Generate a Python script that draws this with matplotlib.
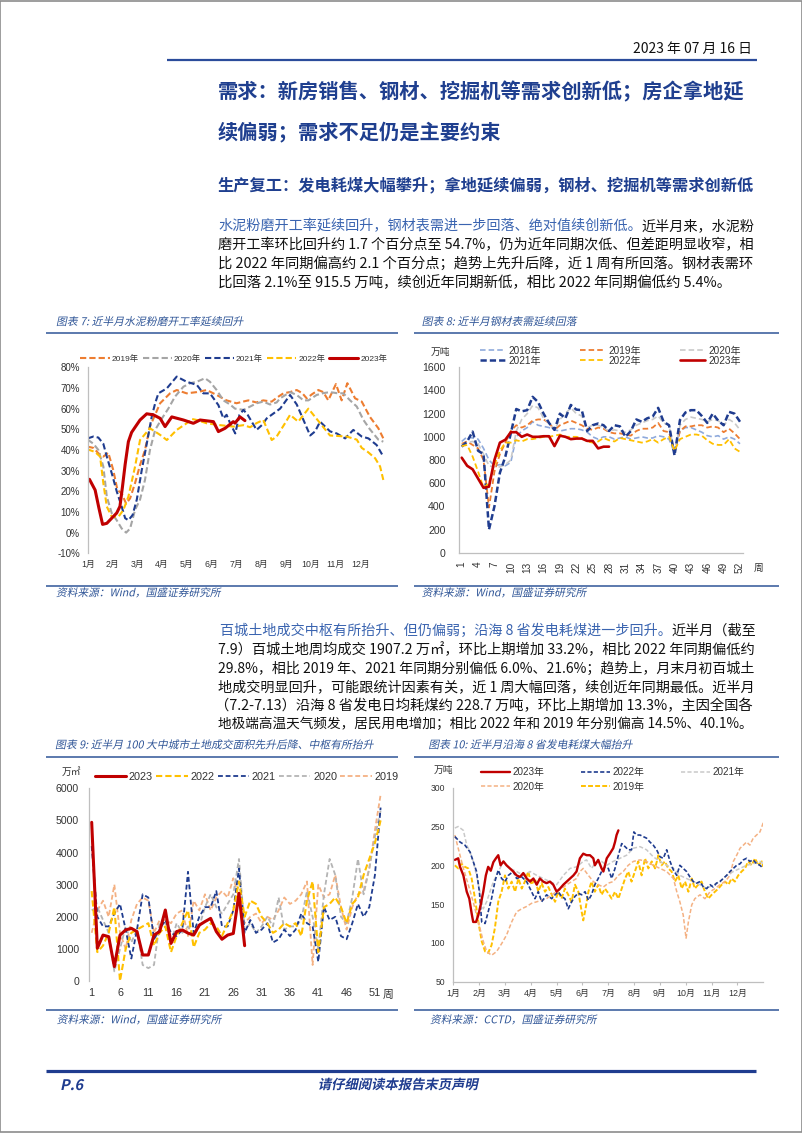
import matplotlib
matplotlib.use("Agg")
import matplotlib.pyplot as plt
from matplotlib.font_manager import FontProperties
from matplotlib.lines import Line2D
from matplotlib.patches import Rectangle
from matplotlib.patheffects import AbstractPathEffect
from matplotlib.transforms import Affine2D

# ============================ DATA ============================
# ---- Chart 7: cement grinding operating rate (%), x = month position (0 = 1 Jan)
c7_month_labels = [f"{m}月" for m in range(1, 13)]
c7_yticks = [-10, 0, 10, 20, 30, 40, 50, 60, 70, 80]

c7_x_2019 = [0, 0.23, 0.43, 0.63, 0.83, 1.03, 1.20, 1.37, 1.55, 1.71, 1.91, 2.11, 2.31, 2.51, 2.92, 3.32, 3.59, 3.99, 4.40, 4.80,
             5.20, 5.60, 6.00, 6.30, 6.48, 6.80, 7.08, 7.42, 7.65, 7.89, 8.15, 8.43, 8.65, 8.83, 9.05, 9.30, 9.50, 9.70, 10.01, 10.24,
             10.47, 10.78, 11.05, 11.38, 11.72, 11.92]
c7_y_2019 = [41.6, 41, 38.4, 36.8, 38.7, 30.3, 20.6, 19, 14, 16.6, 24, 32.7, 40, 51.3, 62.6, 67.4, 69, 67.4, 68, 69,
             66.6, 64, 62.6, 63.5, 64, 63, 64, 63.4, 65.5, 67.4, 68, 69, 67.5, 65, 67, 69, 68, 64, 71.9, 64,
             72.3, 65, 63.4, 56, 50.5, 45.6]

c7_x_2020 = [0, 0.23, 0.43, 0.63, 0.77, 0.97, 1.17, 1.37, 1.55, 1.71, 1.91, 2.11, 2.31, 2.51, 2.72, 2.98, 3.25, 3.52, 3.86, 4.13,
             4.40, 4.73, 4.93, 5.20, 5.47, 5.74, 5.94, 6.28, 6.55, 6.81, 7.08, 7.35, 7.62, 7.76, 8.16, 8.43, 8.70, 8.90, 9.23, 9.50,
             9.77, 10.04, 10.31, 10.58, 10.85, 11.12, 11.38, 11.72, 11.92]
c7_y_2020 = [45, 43, 40, 32, 17.4, 9.4, 6, 2, 0, 2, 11, 16, 25.5, 40, 49.7, 55, 60, 65.8, 70.6, 72.3,
             73, 74.7, 73, 69, 64, 62, 60, 59.4, 61, 62.6, 63.4, 62, 63, 65, 68, 66.6, 64, 64, 66.6, 67.5,
             68, 67.5, 67.4, 64, 61, 54.5, 50, 45, 44]

c7_x_2021 = [0, 0.23, 0.43, 0.63, 0.77, 0.97, 1.17, 1.37, 1.51, 1.64, 1.81, 1.98, 2.18, 2.38, 2.58, 2.72, 2.85, 3.19, 3.59, 3.99,
             4.40, 4.66, 4.93, 5.27, 5.47, 5.60, 5.74, 5.95, 6.12, 6.28, 6.45, 6.81, 7.02, 7.22, 7.76, 8.16, 8.43, 8.70, 8.97, 9.17,
             9.37, 9.77, 10.04, 10.38, 10.71, 11.05, 11.32, 11.65, 11.92]
c7_y_2021 = [45.6, 46.5, 46, 43, 36.8, 28.7, 20, 12.6, 7, 6, 8.5, 16, 30.3, 43, 56, 62.6, 67.4, 69.8, 75.5, 73,
             71.5, 67.4, 67.4, 61.7, 55.3, 57, 53, 48, 57, 59.4, 57, 49.7, 52, 55.3, 60, 66.6, 62, 54.5, 47, 49,
             53.7, 49, 48, 45.6, 49.7, 46.5, 45.6, 42.4, 36.8]

c7_x_2022 = [0, 0.30, 0.50, 0.63, 0.77, 0.97, 1.24, 1.44, 1.64, 1.91, 2.11, 2.51, 2.92, 3.19, 3.59, 3.99, 4.20, 4.40, 4.80, 5.34,
             5.87, 6.28, 6.55, 6.81, 7.08, 7.42, 7.62, 7.96, 8.16, 8.49, 8.90, 9.10, 9.37, 9.77, 10.44, 10.85, 11.05, 11.30, 11.59, 11.79,
             11.92]
c7_y_2022 = [40.3, 39, 36.8, 24, 12.6, 7.7, 7.7, 11, 17.4, 32, 44.8, 50.5, 47.3, 44.8, 49.7, 52.9, 55, 54.5, 52.9, 52,
             51.3, 52, 51, 53, 54.5, 44.8, 46.5, 53, 57, 53.7, 60, 57, 53, 47, 46.5, 45, 41, 39, 36, 32,
             25.5]

c7_x_2023 = [0.07, 0.30, 0.45, 0.60, 0.77, 0.97, 1.17, 1.30, 1.40, 1.51, 1.64, 1.77, 1.91, 2.11, 2.38, 2.65, 2.92, 3.12, 3.39, 3.86,
             4.26, 4.53, 5.07, 5.27, 5.54, 5.87, 5.94, 6.14, 6.34]
c7_y_2023 = [25.8, 20.6, 12, 4, 4.5, 7, 9.5, 12.7, 22, 33, 44, 48.5, 51, 54.5, 57.5, 57, 55.3, 51.3, 56, 54.5,
             52.9, 54.5, 53.7, 48.9, 50.5, 53.7, 53, 56, 54.2]

# ---- Chart 8: steel apparent demand (万吨), weekly
c8_weeks = list(range(1, 53))
c8_weeks_2023 = list(range(1, 29))
c8_tick_weeks = list(range(1, 53, 3))
c8_yticks = [0, 200, 400, 600, 800, 1000, 1200, 1400, 1600]
c8_2018 = [960, 1000, 990, 980, 900, 800, 750, 760, 750, 780, 1000, 1050, 1080, 1130, 1100, 1090, 1080, 1060, 1050, 1060,
           1070, 1070, 1060, 1040, 1000, 980, 1000, 1000, 980, 990, 1000, 980, 990, 1000, 990, 990, 1010, 1000, 980, 860,
           1050, 1080, 1080, 1060, 1040, 1010, 1000, 1010, 980, 1000, 980, 940]
c8_2019 = [940, 960, 930, 900, 800, 390, 700, 850, 950, 1050, 1100, 1080, 1100, 1140, 1150, 1150, 1120, 1060, 1100, 1120,
           1140, 1120, 1100, 1070, 1060, 1080, 1070, 1040, 1030, 1030, 1020, 1010, 1050, 1070, 1070, 1080, 1120, 1050, 1040, 870,
           1050, 1090, 1090, 1100, 1100, 1080, 1090, 1080, 1040, 1070, 1030, 980]
c8_2020 = [930, 950, 960, 940, 850, 750, 740, 740, 760, 800, 1050, 1150, 1200, 1270, 1250, 1160, 1120, 1060, 1150, 1200,
           1250, 1200, 1180, 1080, 1100, 1100, 1080, 1050, 1060, 1050, 1040, 1060, 1100, 1120, 1140, 1150, 1180, 1120, 1100, 850,
           1100, 1150, 1170, 1160, 1150, 1130, 1150, 1140, 1100, 1150, 1120, 1060]
c8_2021 = [915, 960, 1045, 880, 850, 200, 400, 690, 830, 1030, 1240, 1220, 1230, 1345, 1300, 1200, 1120, 1060, 1200, 1160,
           1275, 1235, 1230, 1050, 1100, 1115, 1100, 1050, 1100, 1090, 1000, 1050, 1150, 1130, 1160, 1175, 1250, 1130, 1100, 840,
           1145, 1210, 1230, 1230, 1180, 1120, 1200, 1140, 1100, 1215, 1200, 1130]
c8_2022 = [920, 930, 830, 700, 560, 600, 760, 880, 950, 950, 970, 960, 980, 980, 990, 1000, 1000, 1010, 1020, 1000,
           1000, 1000, 990, 960, 950, 960, 990, 970, 960, 990, 980, 970, 960, 950, 960, 980, 950, 980, 1000, 880,
           980, 1000, 1020, 1020, 1010, 970, 940, 930, 930, 980, 900, 870]
c8_2023 = [820, 750, 720, 640, 560, 570, 800, 950, 975, 1040, 1040, 1000, 1020, 1000, 1000, 1005, 1005, 920, 1010, 1000,
           980, 985, 985, 965, 965, 900, 915, 915]

# ---- Chart 9: land transactions in 100 cities (万㎡), weekly
c9_weeks = list(range(1, 53))
c9_weeks_2023 = list(range(1, 29))
c9_tick_weeks = list(range(1, 52, 5))
c9_yticks = [0, 1000, 2000, 3000, 4000, 5000, 6000]
c9_2023 = [4940, 1020, 1430, 1380, 450, 1430, 1590, 1640, 1540, 810, 810, 1430, 1540, 2210, 1170, 1540, 1590, 1490, 1430, 1740,
           1850, 1950, 1540, 1300, 1430, 1480, 2730, 1100]
c9_2022 = [2800, 900, 1100, 1500, 2300, 0, 1000, 1500, 1600, 1700, 1800, 1100, 1500, 1700, 900, 1400, 1800, 2200, 1050, 1500,
           1600, 1800, 1700, 1400, 1800, 2200, 3100, 2000, 2500, 2400, 2000, 1800, 1500, 1600, 1800, 1700, 1800, 1400, 2500, 3100,
           900, 2300, 2400, 2600, 2300, 1800, 2400, 2600, 3300, 3800, 4300, 5000]
c9_2021 = [4200, 2000, 1700, 1700, 2100, 2400, 1600, 700, 1600, 2700, 2600, 1300, 1600, 1900, 1500, 1400, 1600, 3400, 1500, 2000,
           2300, 2300, 2800, 1700, 1700, 2200, 3500, 1500, 1900, 1500, 1600, 1800, 1200, 1300, 1600, 1400, 1600, 2100, 1800, 1700,
           600, 2300, 1900, 2000, 1400, 1300, 1800, 2400, 2000, 2300, 3300, 5400]
c9_2020 = [2200, 2300, 1900, 1500, 300, 1000, 1700, 1200, 1600, 500, 400, 500, 1800, 1800, 1200, 1800, 1500, 1700, 1400, 1700,
           2300, 2700, 2300, 2100, 2400, 2700, 3800, 1600, 1800, 1500, 1700, 2000, 1700, 2600, 1600, 1700, 1700, 1900, 2800, 2000,
           1000, 2700, 3800, 3300, 2000, 1800, 2600, 3800, 2700, 3500, 4500, 5300]
c9_2019 = [1500, 2200, 2500, 2000, 3000, 1500, 1000, 1900, 2400, 2600, 2500, 1500, 1900, 1900, 1800, 2100, 2200, 1400, 2500, 2200,
           2700, 2200, 2600, 2800, 2600, 3200, 2600, 1800, 2000, 2100, 1800, 2000, 1900, 2200, 2600, 2400, 2500, 2700, 3100, 500,
           3000, 2600, 2700, 3300, 2300, 1600, 2300, 2700, 2800, 3500, 4700, 5800]

# ---- Chart 10: coal burn of coastal power plants (万吨), x = month position
c10_month_labels = [f"{m}月" for m in range(1, 13)]
c10_yticks = [50, 100, 150, 200, 250, 300]
c10_x_2023 = [0.06, 0.19, 0.26, 0.39, 0.52, 0.62, 0.71, 0.77, 0.88, 0.97, 1.06, 1.16, 1.26, 1.35, 1.45, 1.55, 1.65, 1.74, 1.83, 1.94,
              2.06, 2.19, 2.32, 2.45, 2.58, 2.71, 2.84, 2.97, 3.10, 3.23, 3.35, 3.48, 3.61, 3.74, 3.87, 4.0, 4.13, 4.26, 4.39, 4.52,
              4.65, 4.77, 4.90, 5.03, 5.16, 5.29, 5.42, 5.48, 5.61, 5.74, 5.81, 5.94, 6.06, 6.19, 6.26, 6.32, 6.39]
c10_y_2023 = [207, 209, 198, 187, 166, 157, 138, 127, 127, 136, 149, 166, 187, 198, 193, 204, 209, 213, 200, 205,
              200, 196, 192, 187, 185, 190, 183, 179, 183, 175, 183, 179, 177, 179, 175, 166, 170, 175, 179, 183,
              187, 192, 209, 215, 213, 213, 209, 200, 207, 196, 192, 209, 215, 222, 230, 239, 245]
c10_x_2022 = [0.06, 0.26, 0.45, 0.65, 0.77, 0.90, 1.01, 1.10, 1.23, 1.35, 1.48, 1.61, 1.74, 1.87, 2.0, 2.13, 2.32, 2.45, 2.65, 2.84,
              3.03, 3.16, 3.29, 3.42, 3.61, 3.81, 3.94, 4.06, 4.19, 4.32, 4.45, 4.58, 4.71, 4.84, 4.97, 5.10, 5.23, 5.35, 5.48, 5.61,
              5.74, 5.87, 6.0, 6.13, 6.26, 6.39, 6.52, 6.65, 6.77, 6.90, 6.99, 7.10, 7.23, 7.35, 7.48, 7.61, 7.74, 7.87, 8.0, 8.13,
              8.26, 8.39, 8.52, 8.65, 8.77, 8.90, 9.03, 9.16, 9.29, 9.42, 9.55, 9.68, 9.81, 9.94, 10.06, 10.19, 10.32, 10.45, 10.58, 10.71,
              10.84, 10.97, 11.10, 11.23, 11.35, 11.48, 11.61, 11.74, 11.87, 12.0]
c10_y_2022 = [237, 230, 226, 217, 205, 192, 166, 127, 125, 140, 157, 179, 194, 183, 179, 187, 192, 183, 185, 179,
              166, 157, 166, 153, 162, 157, 162, 166, 160, 157, 144, 153, 160, 164, 162, 166, 155, 162, 175, 183,
              192, 198, 196, 183, 196, 213, 228, 224, 220, 220, 243, 239, 239, 237, 235, 230, 226, 220, 211, 209,
              220, 205, 194, 187, 200, 196, 192, 185, 179, 177, 179, 172, 170, 175, 172, 177, 179, 183, 187, 192,
              196, 200, 202, 207, 209, 205, 207, 202, 200, 196]
c10_x_2021 = [0.06, 0.19, 0.39, 0.52, 0.65, 0.77, 0.90, 1.03, 1.16, 1.29, 1.42, 1.55, 1.68, 1.81, 1.94, 2.06, 2.19, 2.45, 2.71, 2.97,
              3.23, 3.48, 3.74, 4.0, 4.26, 4.52, 4.77, 5.03, 5.16, 5.35, 5.55, 5.74, 5.94, 6.19, 6.45, 6.71, 6.97, 7.23, 7.48, 7.74,
              8.0, 8.26, 8.52, 8.77, 9.03, 9.29, 9.55, 9.81, 10.06, 10.32, 10.58, 10.84, 11.10, 11.35, 11.61, 11.87, 12.0]
c10_y_2021 = [248, 250, 245, 226, 217, 205, 187, 166, 144, 153, 166, 179, 187, 196, 205, 200, 196, 192, 187, 192,
              187, 183, 179, 175, 187, 196, 198, 205, 207, 196, 205, 205, 200, 205, 209, 213, 222, 224, 220, 211,
              205, 200, 196, 187, 183, 179, 175, 170, 175, 179, 187, 192, 196, 200, 202, 205, 202]
c10_x_2020 = [0.06, 0.19, 0.39, 0.58, 0.77, 0.90, 1.03, 1.16, 1.29, 1.48, 1.68, 1.87, 2.06, 2.26, 2.45, 2.65, 2.84, 3.03, 3.23, 3.42,
              3.61, 3.81, 4.0, 4.19, 4.39, 4.58, 4.77, 4.90, 5.03, 5.23, 5.42, 5.61, 5.81, 6.0, 6.19, 6.39, 6.58, 6.77, 6.97, 7.23,
              7.48, 7.74, 8.0, 8.26, 8.52, 8.65, 8.77, 8.90, 9.01, 9.10, 9.23, 9.35, 9.55, 9.74, 9.94, 10.13, 10.32, 10.52, 10.71, 10.84,
              10.97, 11.10, 11.23, 11.35, 11.48, 11.61, 11.74, 11.87, 12.0]
c10_y_2020 = [239, 222, 196, 175, 153, 136, 119, 102, 89, 84, 89, 99, 110, 127, 140, 144, 147, 151, 153, 155,
              157, 162, 166, 170, 175, 179, 183, 192, 196, 187, 179, 175, 172, 177, 179, 187, 192, 200, 205, 207,
              205, 200, 196, 192, 183, 166, 153, 136, 106, 127, 149, 157, 162, 157, 166, 170, 175, 179, 187, 205,
              213, 222, 226, 230, 226, 235, 239, 243, 255]
c10_x_2019 = [0.06, 0.19, 0.32, 0.45, 0.58, 0.71, 0.84, 0.97, 1.10, 1.23, 1.35, 1.48, 1.61, 1.74, 1.87, 2.0, 2.13, 2.26, 2.39, 2.52,
              2.65, 2.77, 2.90, 3.03, 3.16, 3.29, 3.42, 3.55, 3.68, 3.81, 3.94, 4.06, 4.19, 4.32, 4.45, 4.58, 4.71, 4.84, 4.97, 5.03,
              5.12, 5.23, 5.35, 5.48, 5.61, 5.74, 5.87, 6.0, 6.13, 6.26, 6.39, 6.52, 6.65, 6.77, 6.90, 7.03, 7.16, 7.29, 7.42, 7.55,
              7.68, 7.81, 7.94, 8.06, 8.19, 8.32, 8.45, 8.58, 8.71, 8.84, 8.97, 9.10, 9.23, 9.35, 9.48, 9.61, 9.74, 9.87, 10.0, 10.13,
              10.26, 10.39, 10.52, 10.65, 10.77, 10.90, 11.03, 11.16, 11.29, 11.42, 11.55, 11.68, 11.81, 11.94, 12.0]
c10_y_2019 = [200, 196, 202, 198, 196, 183, 157, 127, 102, 89, 87, 97, 119, 153, 166, 187, 170, 179, 166, 183,
              170, 179, 192, 175, 183, 166, 177, 166, 172, 162, 153, 166, 157, 170, 162, 153, 175, 166, 140, 129,
              144, 166, 179, 166, 175, 162, 170, 164, 157, 166, 157, 170, 183, 192, 179, 192, 205, 187, 209, 196,
              205, 196, 213, 200, 205, 196, 192, 179, 187, 170, 179, 166, 183, 170, 175, 179, 166, 157, 162, 166,
              170, 175, 179, 175, 183, 179, 187, 192, 196, 205, 200, 209, 200, 205, 198]

# ---- Text content
date_text = "2023 年 07 月 16 日"
heading_1 = "需求：新房销售、钢材、挖掘机等需求创新低；房企拿地延"
heading_2 = "续偏弱；需求不足仍是主要约束"
subheading = "生产复工：发电耗煤大幅攀升；拿地延续偏弱，钢材、挖掘机等需求创新低"
para1 = [
    [("水泥粉磨开工率延续回升，钢材表需进一步回落、绝对值续创新低。", "hl"), ("近半月来，水泥粉", "k")],
    [("磨开工率环比回升约 1.7 个百分点至 54.7%，仍为近年同期次低、但差距明显收窄，相", "k")],
    [("比 2022 年同期偏高约 2.1 个百分点；趋势上先升后降，近 1 周有所回落。钢材表需环", "k")],
    [("比回落 2.1%至 915.5 万吨，续创近年同期新低，相比 2022 年同期偏低约 5.4%。", "k")],
]
para2 = [
    [("百城土地成交中枢有所抬升、但仍偏弱；沿海 8 省发电耗煤进一步回升。", "hl"), ("近半月（截至", "k")],
    [("7.9）百城土地周均成交 1907.2 万㎡，环比上期增加 33.2%，相比 2022 年同期偏低约", "k")],
    [("29.8%，相比 2019 年、2021 年同期分别偏低 6.0%、21.6%；趋势上，月末月初百城土", "k")],
    [("地成交明显回升，可能跟统计因素有关，近 1 周大幅回落，续创近年同期最低。近半月", "k")],
    [("（7.2-7.13）沿海 8 省发电日均耗煤约 228.7 万吨，环比上期增加 13.3%，主因全国各", "k")],
    [("地极端高温天气频发，居民用电增加；相比 2022 年和 2019 年分别偏高 14.5%、40.1%。", "k")],
]
title7 = "图表 7: 近半月水泥粉磨开工率延续回升"
title8 = "图表 8: 近半月钢材表需延续回落"
title9 = "图表 9: 近半月 100 大中城市土地成交面积先升后降、中枢有所抬升"
title10 = "图表 10: 近半月沿海 8 省发电耗煤大幅抬升"
source_wind = "资料来源：Wind，国盛证券研究所"
source_cctd = "资料来源：CCTD，国盛证券研究所"
footer_page = "P.6"
footer_note = "请仔细阅读本报告末页声明"

# ============================ STYLE ============================
W, H = 802, 1133
CJK = ['Noto Sans CJK SC', 'DejaVu Sans']
LAT = ['Liberation Sans', 'Noto Sans CJK SC', 'DejaVu Sans']
plt.rcParams['font.family'] = CJK
plt.rcParams['axes.unicode_minus'] = False
plt.rcParams['lines.scale_dashes'] = False
plt.rcParams['lines.solid_capstyle'] = 'round'

RED = '#C00000'
NAVY = '#1F3C8F'
ORANGE = '#ED7D31'
GRAY = '#A5A5A5'
LGRAY = '#C9C9C9'
YELLOW = '#FFC000'
LBLUE = '#8FAADC'
SALMON = '#F4B183'
TITLE_C = '#2F5597'
HEAD_C = '#1F3F8F'
HILITE_C = '#3A64B0'
AXIS_C = '#BFBFBF'
TICK_C = '#333333'
COLORS = {"hl": HILITE_C, "k": "#111111"}

fig = plt.figure(figsize=(W / 100, H / 100), dpi=100)
fig.patch.set_facecolor('white')
renderer = fig.canvas.get_renderer()


def fx(x):
    return x / W


def fy(y):
    return 1 - y / H


def rect(l, t, r, b):
    return [l / W, 1 - b / H, (r - l) / W, (b - t) / H]


class Italic(AbstractPathEffect):
    def __init__(self, deg=12):
        super().__init__()
        self._sk = Affine2D().skew_deg(deg, 0)

    def draw_path(self, renderer, gc, tpath, affine, rgbFace=None):
        renderer.draw_path(gc, tpath, self._sk + affine, rgbFace)


def hline(x0, x1, y, color, lw):
    fig.add_artist(Line2D([fx(x0), fx(x1)], [fy(y), fy(y)], transform=fig.transFigure,
                          color=color, lw=lw, solid_capstyle='butt'))


def _w(s, size, weight):
    fp = FontProperties(family=CJK, size=size, weight=weight)
    return renderer.get_text_width_height_descent(s, fp, ismath=False)[0]


def adv(s, size, weight):
    return _w('H' + s + 'H', size, weight) - _w('HH', size, weight)


def put_line(segs, x0, y, base, right=None, weight='normal', color=None):
    full = ''.join(t for t, _ in segs)
    size = base
    if right is not None:
        size = base * (right - x0) / _w(full, base, weight)
        size = max(base * 0.92, min(base * 1.08, size))
    x = x0
    for t, c in segs:
        fig.text(fx(x), fy(y), t, fontsize=size, color=color or COLORS[c], weight=weight,
                 family=CJK, ha='left', va='center')
        x += adv(t, size, weight)
    return size


# ============================ PAGE ============================
fig.add_artist(Rectangle((0.0006, 0.0005), 0.9988, 0.999, transform=fig.transFigure,
                         fill=False, ec='#8C8C8C', lw=1.2))
fig.text(fx(752), fy(49), date_text, ha='right', va='center', fontsize=10, color='#111111', family=CJK)
hline(167, 757, 60, '#2B4C9B', 1.6)

hs = put_line([(heading_1, 'k')], 217.5, 92, 15.2, right=745, weight='bold', color=HEAD_C)
put_line([(heading_2, 'k')], 217.5, 132, hs, weight='bold', color=HEAD_C)
put_line([(subheading, 'k')], 217.5, 185, 11.7, right=752, weight='bold', color=HEAD_C)

p1_y = [226.5, 245.2, 263.9, 282.6]
for i, segs in enumerate(para1):
    last = i == len(para1) - 1
    put_line(segs, 218, p1_y[i], 10.4, right=None if last else 752)

p2_y = [631, 649.7, 668.4, 687.1, 705.8, 724.5]
p2_x = [219.5, 218, 218, 218.5, 215, 218.5]
for i, segs in enumerate(para2):
    put_line(segs, p2_x[i], p2_y[i], 10.4, right=752)

# chart titles / sources / rules
ital = [Italic(12)]
for (x, y, t) in [(56, 321.7, title7), (421.7, 321.7, title8), (55, 745, title9), (428.3, 745, title10)]:
    fig.text(fx(x), fy(y), t, fontsize=7.8, color=TITLE_C, ha='left', va='center', family=CJK, path_effects=ital)
for (x, y, t) in [(56, 593, source_wind), (421.7, 593, source_wind), (56.7, 1020, source_wind), (430, 1020, source_cctd)]:
    fig.text(fx(x), fy(y), t, fontsize=7.7, color=TITLE_C, ha='left', va='center', family=CJK, path_effects=ital)
for y in (333.3, 586, 756.5, 1009.5):
    hline(45.5, 398, y, TITLE_C, 1.1)
    hline(414, 779, y, TITLE_C, 1.1)

# footer
hline(46, 756, 1070.5, NAVY, 2.3)
fig.text(fx(60), fy(1085), footer_page, fontsize=10.5, weight='bold', color=NAVY, ha='left', va='center',
         family=CJK, path_effects=ital)
fig.text(fx(398), fy(1085), footer_note, fontsize=9.6, weight='bold', color=NAVY, ha='center', va='center',
         family=CJK, path_effects=ital)


def base_axes(box, xlim, ylim, bottom=False):
    ax = fig.add_axes(rect(*box))
    ax.set_xlim(*xlim)
    ax.set_ylim(*ylim)
    for s in ('top', 'right'):
        ax.spines[s].set_visible(False)
    ax.spines['left'].set_color(AXIS_C)
    ax.spines['left'].set_linewidth(0.9)
    ax.spines['bottom'].set_visible(bottom)
    ax.spines['bottom'].set_color(AXIS_C)
    ax.spines['bottom'].set_linewidth(0.9)
    ax.patch.set_alpha(0)
    return ax


def legend(ax, handles, labels, ncol, cx, cy, size, hl, tp, cs, ls=0.3):
    ax.legend(handles, labels, ncol=ncol, loc='center', bbox_to_anchor=(fx(cx), fy(cy)),
              bbox_transform=fig.transFigure, frameon=False, prop=FontProperties(family=LAT, size=size),
              handlelength=hl, handletextpad=tp, columnspacing=cs, labelspacing=ls,
              borderpad=0, borderaxespad=0, labelcolor=TICK_C)


# ============================ CHART 7 ============================
ax7 = base_axes((87.7, 367.3, 385.3, 553.3), (0, 12), (-10, 80))
l19, = ax7.plot(c7_x_2019, c7_y_2019, color=ORANGE, lw=1.5, dashes=(4.5, 2.2))
l20, = ax7.plot(c7_x_2020, c7_y_2020, color=GRAY, lw=1.5, dashes=(4.5, 2.2))
l21, = ax7.plot(c7_x_2021, c7_y_2021, color=NAVY, lw=1.5, dashes=(4.5, 2.2))
l22, = ax7.plot(c7_x_2022, c7_y_2022, color=YELLOW, lw=1.5, dashes=(4.5, 2.2))
l23, = ax7.plot(c7_x_2023, c7_y_2023, color=RED, lw=2.2)
ax7.set_yticks(c7_yticks)
ax7.set_yticklabels([f"{v}%" for v in c7_yticks], fontsize=7, family=LAT, color=TICK_C)
ax7.set_xticks(range(len(c7_month_labels)))
ax7.set_xticklabels(c7_month_labels, fontsize=6.3, family=LAT, color=TICK_C)
ax7.tick_params(axis='y', length=0, pad=5.5)
ax7.tick_params(axis='x', length=0, pad=4.5)
legend(ax7, [l19, l20, l21, l22, l23], ['2019年', '2020年', '2021年', '2022年', '2023年'], 5,
       233.8, 359.3, 6.0, 3.5, 0.25, 0.45)

# ============================ CHART 8 ============================
ax8 = base_axes((459.3, 367.3, 743, 552.7), (0.56, 52.55), (0, 1600), bottom=True)
m18, = ax8.plot(c8_weeks, c8_2018, color=LBLUE, lw=1.2, dashes=(4, 2.2))
m19, = ax8.plot(c8_weeks, c8_2019, color=ORANGE, lw=1.3, dashes=(4, 2.2))
m20, = ax8.plot(c8_weeks, c8_2020, color=LGRAY, lw=1.2, dashes=(4, 2.2))
m21, = ax8.plot(c8_weeks, c8_2021, color=NAVY, lw=1.8, dashes=(4.5, 2.2))
m22, = ax8.plot(c8_weeks, c8_2022, color=YELLOW, lw=1.3, dashes=(4, 2.2))
m23, = ax8.plot(c8_weeks_2023, c8_2023, color=RED, lw=1.9)
ax8.set_yticks(c8_yticks)
ax8.set_yticklabels([str(v) for v in c8_yticks], fontsize=7.6, family=LAT, color=TICK_C)
ax8.set_xticks(c8_tick_weeks)
ax8.set_xticklabels([str(w) for w in c8_tick_weeks], fontsize=7.2, family=LAT, color=TICK_C, rotation=90)
ax8.tick_params(axis='y', length=0, pad=10)
ax8.tick_params(axis='x', length=0, pad=6.5)
fig.text(fx(440), fy(351.7), "万吨", fontsize=7, color=TICK_C, ha='center', va='center', family=CJK)
fig.text(fx(758.3), fy(568.3), "周", fontsize=7, color=TICK_C, ha='center', va='center', family=CJK)
legend(ax8, [m18, m21, m19, m22, m20, m23], ['2018年', '2021年', '2019年', '2022年', '2020年', '2023年'], 3,
       610, 355.7, 7.2, 2.5, 0.35, 3.9, ls=0.0)

# ============================ CHART 9 ============================
ax9 = base_axes((89.3, 788.3, 384, 981), (0.58, 52.6), (0, 6000))
n19, = ax9.plot(c9_weeks, c9_2019, color=SALMON, lw=1.3, dashes=(3.5, 2))
n20, = ax9.plot(c9_weeks, c9_2020, color='#B4B4B4', lw=1.3, dashes=(3.5, 2))
n21, = ax9.plot(c9_weeks, c9_2021, color=NAVY, lw=1.3, dashes=(3.5, 2))
n22, = ax9.plot(c9_weeks, c9_2022, color=YELLOW, lw=1.5, dashes=(4.5, 2.2))
n23, = ax9.plot(c9_weeks_2023, c9_2023, color=RED, lw=2.2)
ax9.set_yticks(c9_yticks)
ax9.set_yticklabels([str(v) for v in c9_yticks], fontsize=7.6, family=LAT, color=TICK_C)
ax9.set_xticks(c9_tick_weeks)
ax9.set_xticklabels([str(w) for w in c9_tick_weeks], fontsize=7.8, family=LAT, color=TICK_C)
ax9.tick_params(axis='y', length=0, pad=7.5)
ax9.tick_params(axis='x', length=0, pad=5)
fig.text(fx(71.7), fy(771.7), "万㎡", fontsize=7, color=TICK_C, ha='center', va='center', family=CJK)
fig.text(fx(388), fy(995), "周", fontsize=7.8, color=TICK_C, ha='center', va='center', family=CJK)
legend(ax9, [n23, n22, n21, n20, n19], ['2023', '2022', '2021', '2020', '2019'], 5,
       246.7, 776.7, 7.8, 2.9, 0.25, 0.3)

# ============================ CHART 10 ============================
ax10 = base_axes((453.3, 787.7, 763.3, 981.7), (0, 12), (50, 300), bottom=True)
k19, = ax10.plot(c10_x_2019, c10_y_2019, color=YELLOW, lw=1.4, dashes=(3.5, 1.6))
k20, = ax10.plot(c10_x_2020, c10_y_2020, color=SALMON, lw=1.1, dashes=(3, 1.6))
k21, = ax10.plot(c10_x_2021, c10_y_2021, color=LGRAY, lw=1.1, dashes=(3, 1.6))
k22, = ax10.plot(c10_x_2022, c10_y_2022, color=NAVY, lw=1.2, dashes=(3, 1.6))
k23, = ax10.plot(c10_x_2023, c10_y_2023, color=RED, lw=1.7)
ax10.set_yticks(c10_yticks)
ax10.set_yticklabels([str(v) for v in c10_yticks], fontsize=6.2, family=LAT, color=TICK_C)
ax10.set_xticks(range(len(c10_month_labels)))
ax10.set_xticklabels(c10_month_labels, fontsize=6.4, family=LAT, color=TICK_C)
ax10.tick_params(axis='y', length=0, pad=6)
ax10.tick_params(axis='x', length=2.5, width=0.8, color=AXIS_C, pad=2.5)
fig.text(fx(443), fy(770), "万吨", fontsize=7, color=TICK_C, ha='center', va='center', family=CJK)
legend(ax10, [k23, k20, k22, k19, k21], ['2023年', '2020年', '2022年', '2019年', '2021年'], 3,
       612.5, 779.7, 7.1, 3.0, 0.2, 3.7, ls=0.45)

fig.savefig("out.png", dpi=100, facecolor='white')
